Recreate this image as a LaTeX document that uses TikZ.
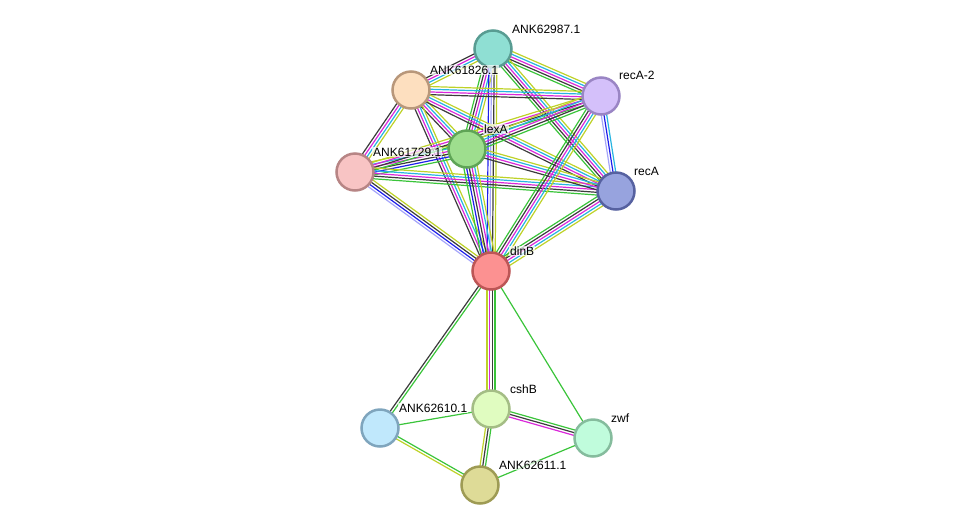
\documentclass[tikz,border=0pt]{standalone}
\usepackage{fontspec}
\setmainfont{Liberation Sans}
\usetikzlibrary{calc}
\definecolor{lgreen}{RGB}{58,196,58}
\definecolor{lblue}{RGB}{30,30,235}
\definecolor{lblack}{RGB}{60,60,60}
\definecolor{lmag}{RGB}{218,40,218}
\definecolor{lcyan}{RGB}{40,180,225}
\definecolor{lyel}{RGB}{190,210,40}
\definecolor{llav}{RGB}{165,165,250}
\definecolor{fA}{RGB}{143,223,211}\definecolor{dA}{RGB}{88,156,146}
\definecolor{fB}{RGB}{253,223,191}\definecolor{dB}{RGB}{184,151,122}
\definecolor{fRb}{RGB}{212,192,250}\definecolor{dRb}{RGB}{154,133,196}
\definecolor{fL}{RGB}{158,222,142}\definecolor{dL}{RGB}{95,164,86}
\definecolor{fC}{RGB}{248,196,196}\definecolor{dC}{RGB}{183,133,133}
\definecolor{fR}{RGB}{151,163,222}\definecolor{dR}{RGB}{86,97,160}
\definecolor{fD}{RGB}{252,145,145}\definecolor{dD}{RGB}{188,86,86}
\definecolor{fS}{RGB}{224,252,192}\definecolor{dS}{RGB}{164,189,133}
\definecolor{fP}{RGB}{192,232,252}\definecolor{dP}{RGB}{127,165,189}
\definecolor{fZ}{RGB}{192,252,220}\definecolor{dZ}{RGB}{133,188,157}
\definecolor{fQ}{RGB}{222,219,151}\definecolor{dQ}{RGB}{158,155,84}
\pgfdeclarelayer{bg}
\pgfsetlayers{bg,main}
\newcommand\strlink[3]{%
  \foreach \c [count=\i] in {#3}{\xdef\nlk{\i}}%
  \foreach \c [count=\i] in {#3}{%
    \pgfmathsetmacro\off{(\i-(\nlk+1)/2)*2.7}%
    \draw[\c, line width=1.2pt] ($(#1)!\off pt!90:(#2)$) -- ($(#2)!\off pt!-90:(#1)$);
  }}
\tikzset{
  prot/.style 2 args={circle, minimum size=37pt, inner sep=0pt, line width=2.5pt, draw=#2, fill=#1},
  lbl/.style={anchor=west, font=\fontsize{12}{14}\selectfont, fill=white, fill opacity=0.7, text opacity=1, inner sep=1pt}
}
\begin{document}
\begin{tikzpicture}[x=1pt,y=-1pt]
\useasboundingbox (0,0) rectangle (975,531);
% nodes
\node[prot={fA}{dA}] (A) at (493,49) {};
\node[prot={fB}{dB}] (B) at (411,90) {};
\node[prot={fRb}{dRb}] (R2) at (601,96) {};
\node[prot={fL}{dL}] (L) at (467,149) {};
\node[prot={fC}{dC}] (C) at (355,172) {};
\node[prot={fR}{dR}] (R) at (616,191) {};
\node[prot={fD}{dD}] (D) at (491,271) {};
\node[prot={fS}{dS}] (S) at (491,409) {};
\node[prot={fP}{dP}] (P) at (380,428) {};
\node[prot={fZ}{dZ}] (Z) at (593,438) {};
\node[prot={fQ}{dQ}] (Q) at (480,485) {};
% links
\begin{pgfonlayer}{bg}
\strlink{A}{B}{lblack,lmag,lcyan,lyel}
\strlink{A}{R2}{lgreen,lblack,lmag,lcyan,lyel}
\strlink{A}{R}{lgreen,lblack,lmag,lcyan,lyel}
\strlink{A}{L}{lgreen,lblack,lmag,lcyan,lyel}
\strlink{A}{D}{lblue,llav,lblack,lyel}
\strlink{B}{R2}{lblack,lmag,lcyan,lyel}
\strlink{B}{L}{lblack,lmag,lcyan,lyel}
\strlink{B}{C}{lblack,lmag,lcyan,lyel}
\strlink{B}{R}{lblack,lmag,lcyan,lyel}
\strlink{B}{D}{lblack,lmag,lcyan,lyel}
\strlink{C}{L}{lgreen,lblue,lblack,lmag,lcyan,lyel}
\strlink{C}{R2}{lgreen,lblack,lmag,lyel}
\strlink{C}{R}{lgreen,lblack,lmag,lcyan,lyel}
\strlink{C}{D}{llav,lblue,lblack,lyel}
\strlink{L}{R2}{lgreen,lblack,lmag,lcyan,lyel}
\strlink{L}{R}{lblack,lmag,lcyan,lyel}
\strlink{L}{D}{lgreen,lblue,lblack,lmag,lcyan,lyel}
\strlink{R2}{R}{llav,lblue,lcyan}
\strlink{R2}{D}{lgreen,lblack,lmag,lcyan,lyel}
\strlink{R}{D}{lgreen,lblack,lmag,lcyan,lyel}
\strlink{D}{P}{lblack,lgreen}
\strlink{D}{S}{lyel,lmag,lblack,lgreen}
\strlink{D}{Z}{lgreen}
\strlink{S}{Q}{lyel,lblack,lgreen}
\strlink{P}{S}{lgreen}
\strlink{P}{Q}{lyel,lgreen}
\strlink{S}{Z}{lmag,lblack,lgreen}
\strlink{Q}{Z}{lgreen}
\end{pgfonlayer}
% labels
\node[lbl] (tA) at (511,29) {ANK62987.1};
\node[lbl] (tB) at (429,70) {ANK61826.1};
\node[lbl] (tR2) at (618,75) {recA-2};
\node[lbl] (tL) at (483,129) {lexA};
\node[lbl] (tC) at (372,152) {ANK61729.1};
\node[lbl] (tR) at (633,171) {recA};
\node[lbl] (tD) at (509,251) {dinB};
\node[lbl] (tS) at (509,389) {cshB};
\node[lbl] (tP) at (398,408) {ANK62610.1};
\node[lbl] (tZ) at (610,418) {zwf};
\node[lbl] (tQ) at (498,465) {ANK62611.1};
\end{tikzpicture}
\end{document}
